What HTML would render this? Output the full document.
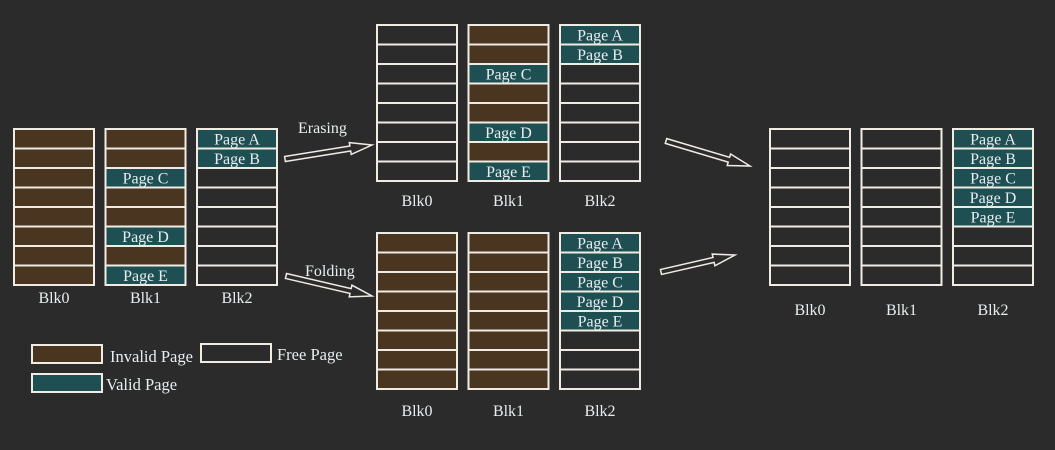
<!DOCTYPE html>
<html><head><meta charset="utf-8"><style>
html,body{margin:0;padding:0;background:#2b2b2b;}
svg{display:block;}
text{font-family:"Liberation Serif",serif;fill:#e8eef0;}
</style></head><body>
<svg id="s" width="1055" height="450" viewBox="0 0 1055 450" xmlns="http://www.w3.org/2000/svg">
<rect width="1055" height="450" fill="#2b2b2b"/>
<text x="298" y="133" font-size="16">Erasing</text>
<text x="305" y="276" font-size="16">Folding</text>
<rect x="32" y="345" width="70" height="18" fill="#4a3520" stroke="#f0ece4" stroke-width="2"/>
<text x="110" y="362" font-size="16.5">Invalid Page</text>
<rect x="201" y="344" width="70" height="18" fill="#2b2b2b" stroke="#f0ece4" stroke-width="2"/>
<text x="277" y="360" font-size="16.5">Free Page</text>
<rect x="32" y="374" width="70" height="18" fill="#1e4f52" stroke="#f0ece4" stroke-width="2"/>
<text x="106" y="390" font-size="16.5">Valid Page</text>
</svg>
<script>
// page states: I=invalid, F=free, or a valid page name
const groupBefore = [
  ['I','I','I','I','I','I','I','I'],
  ['I','I','Page C','I','I','Page D','I','Page E'],
  ['Page A','Page B','F','F','F','F','F','F']
];
const groupErase = [
  ['F','F','F','F','F','F','F','F'],
  ['I','I','Page C','I','I','Page D','I','Page E'],
  ['Page A','Page B','F','F','F','F','F','F']
];
const groupFold = [
  ['I','I','I','I','I','I','I','I'],
  ['I','I','I','I','I','I','I','I'],
  ['Page A','Page B','Page C','Page D','Page E','F','F','F']
];
const groupAfter = [
  ['F','F','F','F','F','F','F','F'],
  ['F','F','F','F','F','F','F','F'],
  ['Page A','Page B','Page C','Page D','Page E','F','F','F']
];
const blockNames = ['Blk0','Blk1','Blk2'];

const svg = document.getElementById('s');
const NS = 'http://www.w3.org/2000/svg';
function el(tag, attrs){const e=document.createElementNS(NS,tag);for(const k in attrs)e.setAttribute(k,attrs[k]);svg.appendChild(e);return e;}

function drawGroup(data, gx, gy, labelY, gname){
  const bw=80, gap=91.5, rh=19.5;
  data.forEach((pages,b)=>{
    const x=gx+b*gap;
    pages.forEach((p,r)=>{
      const y=gy+r*rh;
      const fill = p==='I' ? '#4a3520' : (p==='F' ? '#2b2b2b' : '#1e4f52');
      const rc=el('rect',{x:x,y:y,width:bw,height:rh,fill:fill,stroke:'#f0ece4','stroke-width':2});
      
      
      if(p!=='I'&&p!=='F'){
        const t=el('text',{x:x+bw/2,y:y+rh-4,'font-size':16,'text-anchor':'middle'});
        t.textContent=p;
        
        
      }
    });
    const l=el('text',{x:x+bw/2,y:labelY,'font-size':16,'text-anchor':'middle'});
    l.textContent=blockNames[b];
    
    
  });
}
drawGroup(groupBefore,14,129,303,'before');
drawGroup(groupErase,377,25,206,'erased');
drawGroup(groupFold,377,233,416,'folded');
drawGroup(groupAfter,770,129,315,'result');

function arrow(x1,y1,x2,y2,name){
  const dx=x2-x1, dy=y2-y1, L=Math.hypot(dx,dy), ux=dx/L, uy=dy/L, nx=-uy, ny=ux;
  const sw=2.5, hw=6, hl=22;
  const bx=x2-ux*hl, by=y2-uy*hl;
  const pts=[[x1+nx*sw,y1+ny*sw],[bx+nx*sw,by+ny*sw],[bx+nx*hw,by+ny*hw],[x2,y2],[bx-nx*hw,by-ny*hw],[bx-nx*sw,by-ny*sw],[x1-nx*sw,y1-ny*sw]];
  const p=el('polygon',{points:pts.map(q=>q.join(',')).join(' '),fill:'#2b2b2b',stroke:'#f0ece4','stroke-width':1.5});
  
  
}
arrow(285,159,372,145,'erasing-arrow');
arrow(286,276,372,296,'folding-arrow');
arrow(666,141,750,166,'erase-to-result-arrow');
arrow(661,272,735,255,'fold-to-result-arrow');
</script>
</body></html>
